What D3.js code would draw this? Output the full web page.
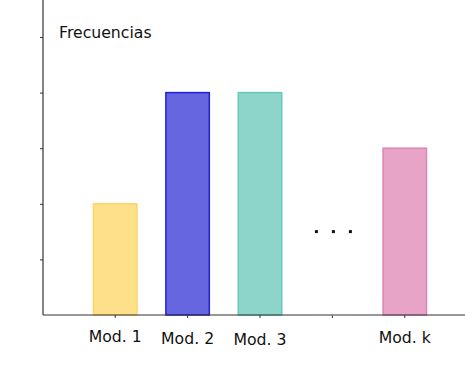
<!DOCTYPE html>
<html>
<head>
<meta charset="utf-8">
<script src="https://cdn.jsdelivr.net/npm/d3@7"></script>
<style>
  body { margin: 0; background: #fff; }
  text { font-family: "DejaVu Sans", sans-serif; fill: #111; }
</style>
</head>
<body>
<div id="chart"></div>
<script>
// data
var categories = ["Mod. 1", "Mod. 2", "Mod. 3", "gap", "Mod. k"];
var labels = ["Mod. 1", "Mod. 2", "Mod. 3", "", "Mod. k"];
var values = [2, 4, 4, 0, 3];
var fills = ["#ffe08a", "#6666e0", "#8dd5cb", "#ffffff", "#e8a4c6"];
var strokes = ["#ffd466", "#2020d8", "#66c9ba", "#aaaaaa", "#dd84b2"];
var yTicks = [1, 2, 3, 4, 5];

var width = 465, height = 376;
var axisX = 43, axisY = 315;

var svg = d3.select("#chart").append("svg")
    .attr("width", width)
    .attr("height", height);

var x = d3.scaleBand()
    .domain(categories)
    .range([79, 441])
    .paddingInner(0.4)
    .paddingOuter(0.2);

var y = d3.scaleLinear()
    .domain([0, 5])
    .range([axisY, 37]);

var rows = categories.map(function(c, i) {
  return { cat: c, label: labels[i], value: values[i], fill: fills[i], stroke: strokes[i] };
});

// bars
svg.selectAll(".bar")
  .data(rows)
  .enter().append("rect")
  .attr("class", "bar")
  .attr("x", function(d) { return x(d.cat); })
  .attr("y", function(d) { return y(d.value); })
  .attr("width", x.bandwidth())
  .attr("height", function(d) { return y(0) - y(d.value); })
  .style("fill", function(d) { return d.fill; })
  .style("stroke", function(d) { return d.stroke; })
  .style("stroke-width", 1.5);

// y axis
var yAxis = d3.axisLeft(y).tickValues(yTicks).tickSize(3).tickFormat("");
var gy = svg.append("g")
  .attr("transform", "translate(" + axisX + ",0)")
  .call(yAxis);
gy.select(".domain").remove();
gy.selectAll("line").attr("stroke", "#333");
svg.append("line")
  .attr("x1", axisX).attr("x2", axisX)
  .attr("y1", 0).attr("y2", axisY)
  .attr("stroke", "#333").attr("stroke-width", 1.2);

// x axis
var xAxis = d3.axisBottom(x).tickSize(3).tickFormat("");
var gx = svg.append("g")
  .attr("transform", "translate(0," + axisY + ")")
  .call(xAxis);
gx.select(".domain").remove();
gx.selectAll("line").attr("stroke", "#333");
svg.append("line")
  .attr("x1", axisX).attr("x2", width)
  .attr("y1", axisY).attr("y2", axisY)
  .attr("stroke", "#333").attr("stroke-width", 1.2);
// light segment under the gap slot
svg.append("line")
  .attr("x1", x("gap")).attr("x2", x("gap") + x.bandwidth())
  .attr("y1", axisY).attr("y2", axisY)
  .attr("stroke", "#999").attr("stroke-width", 1.2);

// category labels
var labelY = [342, 344, 345, 344, 343];
svg.selectAll(".lbl")
  .data(rows)
  .enter().append("text")
  .attr("class", "lbl")
  .attr("x", function(d) { return x(d.cat) + x.bandwidth() / 2; })
  .attr("y", function(d, i) { return labelY[i]; })
  .attr("text-anchor", "middle")
  .style("font-size", "15.7px")
  .text(function(d) { return d.label; });

// ellipsis dots in the gap slot
var dotOffsets = [-16, 1, 18];
svg.selectAll(".dot")
  .data(dotOffsets)
  .enter().append("rect")
  .attr("class", "dot")
  .attr("x", function(d) { return x("gap") + x.bandwidth() / 2 + d - 1.5; })
  .attr("y", y(1.5) - 1.5)
  .attr("width", 3)
  .attr("height", 3)
  .style("fill", "#111");

// y title
svg.append("text")
  .attr("x", 59)
  .attr("y", 38)
  .style("font-size", "15.7px")
  .text("Frecuencias");
</script>
</body>
</html>
